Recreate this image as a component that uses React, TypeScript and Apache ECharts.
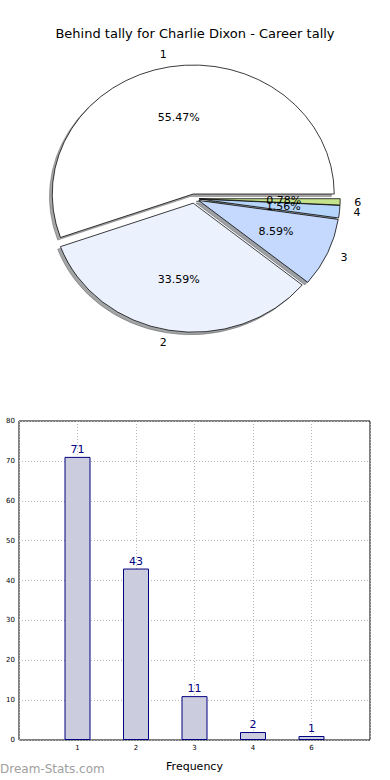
import React, { useEffect, useRef } from "react";
import * as echarts from "echarts";

const TITLE = "Behind tally for Charlie Dixon - Career tally";
const categories = ["1", "2", "3", "4", "6"];
const counts = [71, 43, 11, 2, 1];
const sliceColors = ["#ffffff", "#ebf2fe", "#c4d9fd", "#b5d5fb", "#c4e38a"];
const xLabel = "Frequency";
const watermark = "Dream-Stats.com";

const FONT = '"DejaVu Sans", sans-serif';
const PIE = { cx: 194.1, cy: 198.6, rx: 141, ry: 129, explode: 0.036, shadow: 0.02 };

function shade(hex: string) {
  const r = parseInt(hex.slice(1, 3), 16);
  const g = parseInt(hex.slice(3, 5), 16);
  const b = parseInt(hex.slice(5, 7), 16);
  return `rgba(${Math.round(r * 0.3)},${Math.round(g * 0.3)},${Math.round(b * 0.3)},0.5)`;
}

function geom(i: number, v: number) {
  const total = counts.reduce((a, b) => a + b, 0);
  let before = 0;
  for (let j = 0; j < i; j++) before += counts[j];
  const a1 = (before / total) * Math.PI * 2;
  const a2 = ((before + v) / total) * Math.PI * 2;
  const mid = (a1 + a2) / 2;
  const ox = PIE.cx + PIE.explode * PIE.rx * Math.cos(mid);
  const oy = PIE.cy - PIE.explode * PIE.ry * Math.sin(mid);
  return { a1, a2, mid, ox, oy, frac: v / total };
}

function wedge(ox: number, oy: number, a1: number, a2: number, style: any) {
  return {
    type: "group",
    x: ox,
    y: oy,
    scaleY: PIE.ry / PIE.rx,
    children: [
      {
        type: "sector",
        shape: { cx: 0, cy: 0, r: PIE.rx, r0: 0, startAngle: -a2, endAngle: -a1, clockwise: true },
        style,
      },
    ],
  };
}

export default function App() {
  const ref = useRef<HTMLDivElement>(null);
  useEffect(() => {
    if (!ref.current) return;
    const chart = echarts.init(ref.current, undefined, { renderer: "svg" });
    const pieData = counts.map((c) => [c]);
    chart.setOption({
      animation: false,
      backgroundColor: "#ffffff",
      title: {
        text: TITLE,
        left: "center",
        top: 22,
        textStyle: { fontFamily: FONT, fontSize: 13, fontWeight: "normal", color: "#000" },
      },
      graphic: [
        {
          type: "text",
          left: 0,
          top: 763,
          style: { text: watermark, fill: "#a0a0a0", font: `12px ${FONT}` },
        },
      ],
      grid: {
        left: 19,
        right: 20,
        top: 421,
        bottom: 40,
        show: true,
        borderColor: "#000",
        borderWidth: 1,
        backgroundColor: "transparent",
      },
      xAxis: {
        type: "value",
        min: -1,
        max: 5,
        interval: 1,
        name: xLabel,
        nameLocation: "middle",
        nameGap: 21,
        nameTextStyle: { fontFamily: FONT, fontSize: 11, color: "#000" },
        axisLine: { show: false },
        axisTick: { show: false },
        axisLabel: {
          fontFamily: FONT,
          fontSize: 7,
          color: "#000",
          margin: 4,
          formatter: (v: number) => (v >= 0 && v < categories.length ? categories[v] : ""),
        },
        splitLine: { show: true, lineStyle: { color: "#b8b8b8", type: [1, 2], width: 1 } },
      },
      yAxis: {
        type: "value",
        min: 0,
        max: 80,
        interval: 10,
        axisLine: { show: false },
        axisTick: { show: false },
        axisLabel: { fontFamily: FONT, fontSize: 7, color: "#000", margin: 4 },
        splitLine: { show: true, lineStyle: { color: "#b8b8b8", type: [1, 2], width: 1 } },
      },
      series: [
        {
          type: "custom",
          coordinateSystem: "none",
          z: 1,
          silent: true,
          data: pieData,
          renderItem: (params: any, api: any) => {
            const i = params.dataIndex;
            const g = geom(i, api.value(0));
            const dx = -PIE.shadow * PIE.rx;
            const dy = PIE.shadow * PIE.ry;
            const col = shade(sliceColors[i]);
            return wedge(g.ox + dx, g.oy + dy, g.a1, g.a2, { fill: col, stroke: col, lineWidth: 0.8 });
          },
        },
        {
          type: "custom",
          coordinateSystem: "none",
          z: 2,
          silent: true,
          data: pieData,
          renderItem: (params: any, api: any) => {
            const i = params.dataIndex;
            const g = geom(i, api.value(0));
            const c = Math.cos(g.mid);
            const s = Math.sin(g.mid);
            return {
              type: "group",
              children: [
                wedge(g.ox, g.oy, g.a1, g.a2, {
                  fill: sliceColors[i],
                  stroke: "#000",
                  lineWidth: 0.8,
                }),
                {
                  type: "text",
                  x: g.ox + 1.1 * PIE.rx * c,
                  y: g.oy - 1.1 * PIE.ry * s,
                  z2: 10,
                  style: {
                    text: categories[i],
                    fill: "#000",
                    fontFamily: FONT,
                    fontSize: 11,
                    align: c > 0 ? "left" : "right",
                    verticalAlign: "middle",
                  },
                },
                {
                  type: "text",
                  x: g.ox + 0.6 * PIE.rx * c,
                  y: g.oy - 0.6 * PIE.ry * s,
                  z2: 10,
                  style: {
                    text: (g.frac * 100).toFixed(2) + "%",
                    fill: "#000",
                    fontFamily: FONT,
                    fontSize: 11,
                    align: "center",
                    verticalAlign: "middle",
                  },
                },
              ],
            };
          },
        },
        {
          type: "bar",
          barWidth: 26,
          z: 3,
          data: counts.map((c, i) => [i, c]),
          itemStyle: { color: "#ccccdf", borderColor: "#000080", borderWidth: 1 },
          label: {
            show: true,
            position: "top",
            distance: 2,
            color: "#000080",
            fontFamily: FONT,
            fontSize: 11,
            formatter: (p: any) => String(p.value[1]),
          },
        },
      ],
    });
    return () => chart.dispose();
  }, []);
  return (
    <div
      ref={ref}
      style={{ position: "absolute", left: 0, top: 0, width: 390, height: 780 }}
    />
  );
}
